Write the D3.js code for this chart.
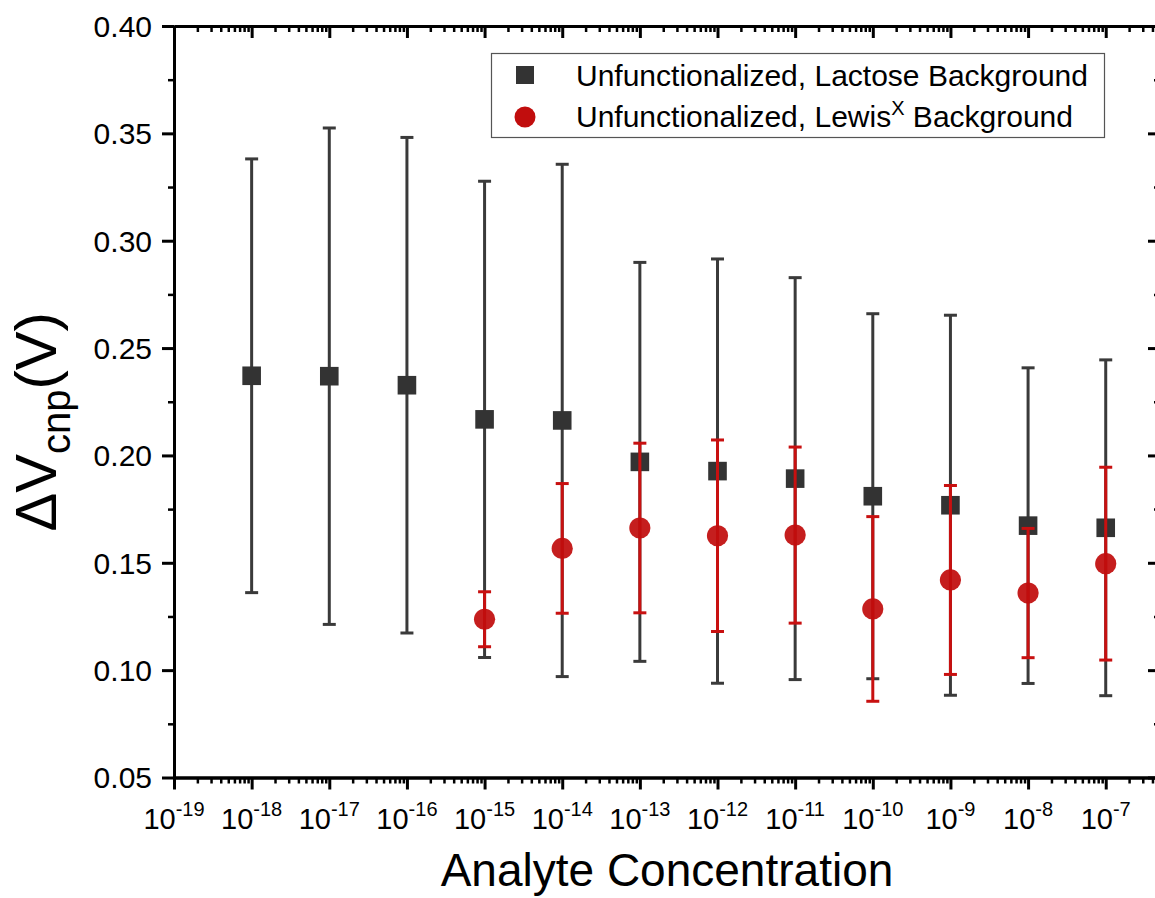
<!DOCTYPE html>
<html>
<head>
<meta charset="utf-8">
<script src="https://cdn.jsdelivr.net/npm/d3@7"></script>
<style>
  html, body { margin: 0; padding: 0; background: #fff; }
  svg { display: block; font-family: Arial, "Liberation Sans", sans-serif; }
</style>
</head>
<body>
<script>
// Concentration exponents (M = 10^exp)
const lactoseExp = [-18, -17, -16, -15, -14, -13, -12, -11, -10, -9, -8, -7];
const lactoseMean = [0.2371, 0.2369, 0.2327, 0.2168, 0.2163, 0.1970, 0.1927, 0.1892, 0.1810, 0.1768, 0.1673, 0.1663];
const lactoseErr  = [0.1010, 0.1156, 0.1154, 0.1109, 0.1193, 0.0929, 0.0988, 0.0936, 0.0850, 0.0885, 0.0735, 0.0782];

const lewisExp  = [-15, -14, -13, -12, -11, -10, -9, -8, -7];
const lewisMean = [0.1237, 0.1567, 0.1662, 0.1626, 0.1629, 0.1285, 0.1420, 0.1359, 0.1496];
const lewisErr  = [0.0128, 0.0302, 0.0395, 0.0446, 0.0410, 0.0430, 0.0440, 0.0301, 0.0449];

const xTickExp = [-19, -18, -17, -16, -15, -14, -13, -12, -11, -10, -9, -8, -7];
const yTicks = [0.05, 0.10, 0.15, 0.20, 0.25, 0.30, 0.35, 0.40];

(function () {
const W = 1155, H = 898;
const pL = 174, pR = 1160, pT = 26, pB = 777.5;

const svg = d3.select("body").append("svg").attr("width", W).attr("height", H);

const x = d3.scaleLog().domain([1e-19, 5e-7]).range([pL, pR]);
const y = d3.scaleLinear().domain([0.05, 0.40]).range([pB, pT]);

const majorX = xTickExp.map(e => Math.pow(10, e));
const minorX = [];
for (let e = -19; e <= -7; e++) for (let m = 2; m <= 9; m++) {
  const v = m * Math.pow(10, e);
  if (v <= 5e-7) minorX.push(v);
}
const minorY = d3.range(0.075, 0.40, 0.05);

function styleAxis(g, w) {
  g.selectAll("path").attr("stroke", "#000").attr("stroke-width", 3);
  g.selectAll("line").attr("stroke", "#000").attr("stroke-width", w);
  g.selectAll("text").remove();
}

// bottom axis (outward ticks)
svg.append("g").attr("transform", `translate(0,${pB})`)
  .call(d3.axisBottom(x).tickValues(minorX).tickSize(6).tickSizeOuter(0).tickFormat(""))
  .call(g => styleAxis(g, 2.5));
svg.append("g").attr("transform", `translate(0,${pB})`)
  .call(d3.axisBottom(x).tickValues(majorX).tickSize(12).tickSizeOuter(0).tickFormat(""))
  .call(g => styleAxis(g, 3));

// top axis (inward ticks)
svg.append("g").attr("transform", `translate(0,${pT})`)
  .call(d3.axisBottom(x).tickValues(minorX).tickSize(6).tickSizeOuter(0).tickFormat(""))
  .call(g => styleAxis(g, 2.5));
svg.append("g").attr("transform", `translate(0,${pT})`)
  .call(d3.axisBottom(x).tickValues(majorX).tickSize(12).tickSizeOuter(0).tickFormat(""))
  .call(g => styleAxis(g, 3));

// left axis (outward ticks)
svg.append("g").attr("transform", `translate(${pL},0)`)
  .call(d3.axisLeft(y).tickValues(minorY).tickSize(6).tickSizeOuter(0).tickFormat(""))
  .call(g => styleAxis(g, 2.5));
svg.append("g").attr("transform", `translate(${pL},0)`)
  .call(d3.axisLeft(y).tickValues(yTicks).tickSize(12).tickSizeOuter(0).tickFormat(""))
  .call(g => styleAxis(g, 3));

// right axis (inward ticks)
svg.append("g").attr("transform", `translate(${pR},0)`)
  .call(d3.axisLeft(y).tickValues(minorY).tickSize(6).tickSizeOuter(0).tickFormat(""))
  .call(g => styleAxis(g, 2.5));
svg.append("g").attr("transform", `translate(${pR},0)`)
  .call(d3.axisLeft(y).tickValues(yTicks).tickSize(12).tickSizeOuter(0).tickFormat(""))
  .call(g => styleAxis(g, 3));

// y tick labels
svg.append("g").selectAll("text").data(yTicks).join("text")
  .attr("x", pL - 22).attr("y", d => y(d)).attr("dy", "0.36em")
  .attr("text-anchor", "end").attr("font-size", 30).attr("fill", "#000")
  .text(d => d3.format(".2f")(d));

// x tick labels: 10^exp
const xl = svg.append("g").selectAll("text").data(xTickExp).join("text")
  .attr("x", d => x(Math.pow(10, d))).attr("y", 829)
  .attr("text-anchor", "middle").attr("font-size", 29).attr("fill", "#000");
xl.append("tspan").text("10");
xl.append("tspan").attr("dy", -13).attr("font-size", 20).text(d => "-" + Math.abs(d));

// axis titles
svg.append("text").attr("x", (pL + pR) / 2).attr("y", 886)
  .attr("text-anchor", "middle").attr("font-size", 46).attr("fill", "#000")
  .text("Analyte Concentration");

const yt = svg.append("text")
  .attr("transform", `translate(56,${(pT + pB) / 2 + 20}) rotate(-90)`)
  .attr("text-anchor", "middle").attr("font-size", 58).attr("fill", "#000");
yt.append("tspan").text("\u0394V");
yt.append("tspan").attr("dy", 14).attr("font-size", 40).text("cnp");
yt.append("tspan").attr("dy", -14).text("(V)");

// series
const blackCol = "#333333", blackBar = "#3a3a3a";
const redCol = "#c10d0d", redBar = "#c81010";
const cap = 6.5;

function errorBars(exps, means, errs, color) {
  const g = svg.append("g").attr("stroke", color).attr("stroke-width", 3).attr("fill", "none");
  exps.forEach((e, i) => {
    const cx = x(Math.pow(10, e));
    const y1 = y(means[i] + errs[i]), y2 = y(means[i] - errs[i]);
    g.append("line").attr("x1", cx).attr("x2", cx).attr("y1", y1).attr("y2", y2);
    g.append("line").attr("x1", cx - cap).attr("x2", cx + cap).attr("y1", y1).attr("y2", y1);
    g.append("line").attr("x1", cx - cap).attr("x2", cx + cap).attr("y1", y2).attr("y2", y2);
  });
}

errorBars(lactoseExp, lactoseMean, lactoseErr, blackBar);
svg.append("g").selectAll("rect").data(lactoseExp).join("rect")
  .attr("x", d => x(Math.pow(10, d)) - 9.3)
  .attr("y", (d, i) => y(lactoseMean[i]) - 9.3)
  .attr("width", 18.6).attr("height", 18.6).attr("fill", blackCol);

errorBars(lewisExp, lewisMean, lewisErr, redBar);
svg.append("g").selectAll("circle").data(lewisExp).join("circle")
  .attr("cx", d => x(Math.pow(10, d)))
  .attr("cy", (d, i) => y(lewisMean[i]))
  .attr("r", 10.6).attr("fill", redCol).attr("fill-opacity", 0.93);

// legend
const lg = svg.append("g");
lg.append("rect").attr("x", 491.5).attr("y", 53.5).attr("width", 613).attr("height", 84)
  .attr("fill", "#fff").attr("stroke", "#555").attr("stroke-width", 1.2);
lg.append("rect").attr("x", 516).attr("y", 66).attr("width", 18).attr("height", 18).attr("fill", blackCol);
lg.append("circle").attr("cx", 525).attr("cy", 117).attr("r", 10.5).attr("fill", redCol);
lg.append("text").attr("x", 576).attr("y", 86).attr("font-size", 30).attr("fill", "#000")
  .text("Unfunctionalized, Lactose Background");
const t2 = lg.append("text").attr("x", 576).attr("y", 127).attr("font-size", 30).attr("fill", "#000");
t2.append("tspan").text("Unfunctionalized, Lewis");
t2.append("tspan").attr("dy", -12).attr("font-size", 20).text("X");
t2.append("tspan").attr("dy", 12).text(" Background");
})();
</script>
</body>
</html>
